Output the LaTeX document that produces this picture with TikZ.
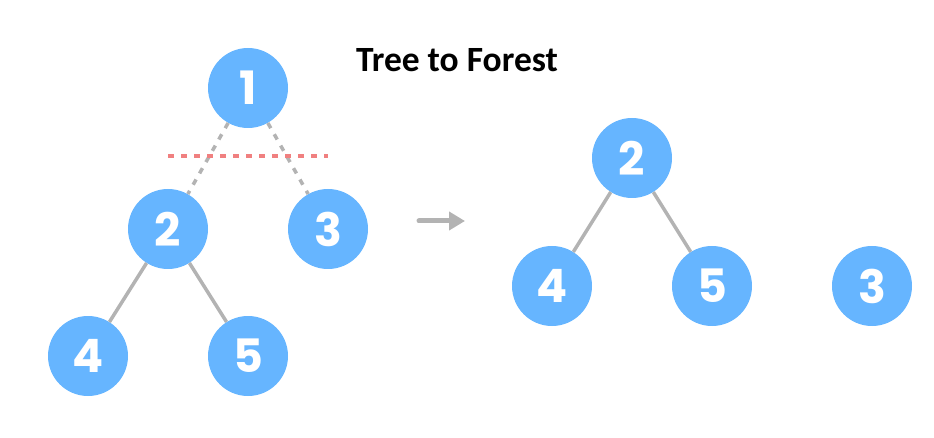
\documentclass[tikz,border=0pt]{standalone}
\usepackage{fontspec}
\setmainfont{Carlito}
\newfontfamily\digitfont{Poppins}[UprightFont=* Bold]
\usetikzlibrary{arrows.meta}
\definecolor{nodeblue}{HTML}{66B5FF}
\definecolor{edgegray}{HTML}{B3B3B3}
\definecolor{cutred}{HTML}{F08080}
\tikzset{
  treenode/.style={circle, fill=nodeblue, minimum size=80pt, inner sep=0pt,
    text=white, font=\digitfont\fontsize{46}{46}\selectfont},
  treeedge/.style={draw=edgegray, line width=3.5pt},
  cutedge/.style={draw=edgegray, line width=3.5pt, dash pattern=on 6pt off 7pt},
  cutline/.style={draw=cutred, line width=3.5pt, dash pattern=on 6pt off 7pt},
  flowarrow/.style={draw=edgegray, line width=5pt, line cap=round,
    -{Triangle[length=16pt,width=18pt]}}
}
\begin{document}
\begin{tikzpicture}[x=1pt,y=-1pt]
\useasboundingbox (0,0) rectangle (934,438);
% title
\node[font=\bfseries\fontsize{35.5}{35.5}\selectfont, anchor=base] (title) at (457,72) {Tree to Forest};
% left tree
\node[treenode] (a1) at (248,88) {1};
\node[treenode] (a2) at (168,229) {2};
\node[treenode] (a3) at (328,229) {3};
\node[treenode] (a4) at (88,356) {4};
\node[treenode] (a5) at (248,356) {5};
\draw[cutedge] (a1) -- (a2);
\draw[cutedge] (a1) -- (a3);
\draw[treeedge] (a2) -- (a4);
\draw[treeedge] (a2) -- (a5);
\coordinate (cutL) at (168,156);
\coordinate (cutR) at (328,156);
\draw[cutline] (cutL) -- (cutR);
% arrow
\coordinate (arrS) at (419,221);
\coordinate (arrE) at (465,221);
\draw[flowarrow] (arrS) -- (arrE);
% right forest
\node[treenode] (b2) at (632,158) {2};
\node[treenode] (b4) at (552,286) {4};
\node[treenode] (b5) at (712,286) {5};
\node[treenode] (b3) at (872,286) {3};
\draw[treeedge] (b2) -- (b4);
\draw[treeedge] (b2) -- (b5);
\end{tikzpicture}
\end{document}
